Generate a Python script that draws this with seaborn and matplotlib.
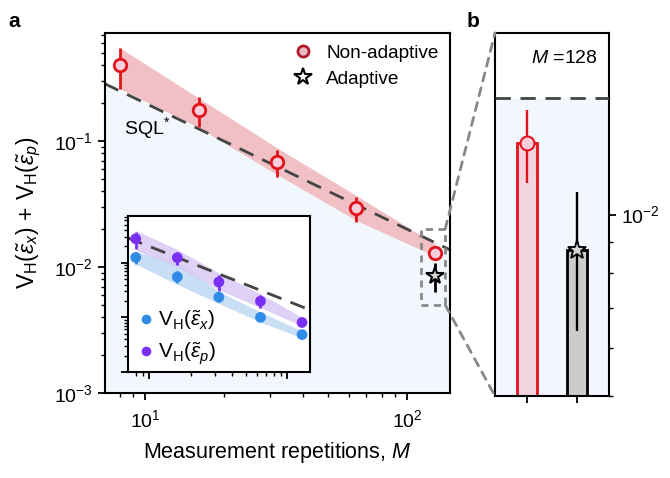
import numpy as np
import pandas as pd
import matplotlib
matplotlib.use("Agg")
import matplotlib.pyplot as plt
import seaborn as sns
from matplotlib.patches import Rectangle, ConnectionPatch
from matplotlib.lines import Line2D

# ---------------- data ----------------
M = [8, 16, 32, 64, 128]
total = [0.40, 0.176, 0.068, 0.0294, 0.0130]
total_lo = [0.259, 0.129, 0.0518, 0.0228, 0.0121]
total_hi = [0.547, 0.223, 0.085, 0.036, 0.0140]
band_lo = [0.26, 0.128, 0.054, 0.0235, 0.0122]
band_hi = [0.55, 0.22, 0.088, 0.037, 0.0152]

M_adapt = [128]
adapt = [0.0085]
adapt_lo = [0.0063]
adapt_hi = [0.0108]

vx = [0.125, 0.055, 0.0234, 0.0100, 0.00484]
vx_lo = [0.095, 0.042, 0.019, 0.0085, 0.0043]
vx_hi = [0.16, 0.070, 0.028, 0.0118, 0.0054]
vx_band_lo = [0.095, 0.040, 0.018, 0.0082, 0.0042]
vx_band_hi = [0.16, 0.10, 0.030, 0.0125, 0.0056]

vp = [0.275, 0.124, 0.0444, 0.0198, 0.00807]
vp_lo = [0.18, 0.090, 0.031, 0.0150, 0.0072]
vp_hi = [0.37, 0.160, 0.060, 0.0255, 0.0092]
vp_band_lo = [0.17, 0.085, 0.032, 0.0150, 0.0070]
vp_band_hi = [0.39, 0.175, 0.065, 0.0270, 0.0100]

bar_labels = ["Non-adaptive", "Adaptive"]
bar_vals = [0.01312, 0.00872]
bar_lo = [0.01126, 0.00642]
bar_hi = [0.01493, 0.0109]

M_line = [7.0, 8, 16, 32, 64, 128, 146]
sql = [2.0 / m for m in M_line]

RED = "#e3131b"
PINK = "#f7cfdc"
BAND_RED = "#f0c0c4"
BG = "#f1f7fc"
BLUE = "#2f8be6"
PURPLE = "#7a2ff5"
BAND_BLUE = "#c2dbf4"
BAND_PURPLE = "#d6c6f3"

# ---------------- style ----------------
sns.set_theme(style="ticks")
plt.rcParams["font.family"] = ["Liberation Sans", "DejaVu Sans"]
plt.rcParams["mathtext.fontset"] = "custom"
plt.rcParams["mathtext.rm"] = "Liberation Sans"
plt.rcParams["mathtext.it"] = "Liberation Sans:italic"
plt.rcParams["mathtext.bf"] = "Liberation Sans:bold"
for k in ["text.color", "axes.labelcolor", "xtick.color", "ytick.color", "axes.edgecolor"]:
    plt.rcParams[k] = "black"
plt.rcParams["axes.linewidth"] = 1.5
plt.rcParams["xtick.major.width"] = 1.3
plt.rcParams["ytick.major.width"] = 1.3
plt.rcParams["xtick.minor.width"] = 1.0
plt.rcParams["ytick.minor.width"] = 1.0
plt.rcParams["xtick.major.size"] = 5
plt.rcParams["ytick.major.size"] = 5
plt.rcParams["xtick.minor.size"] = 3
plt.rcParams["ytick.minor.size"] = 3

fig = plt.figure(figsize=(6.7, 4.78), dpi=100)
ax = fig.add_axes([0.1567, 0.1778, 0.5149, 0.7531])
axb = fig.add_axes([0.7388, 0.1715, 0.1701, 0.7594])
axi = fig.add_axes([0.191, 0.2218, 0.2716, 0.3264])

XLIM = (7.03, 146)
YLIM = (1e-3, 0.72)

# ---------------- main panel ----------------
ax.set_xscale("log")
ax.set_yscale("log")
ax.fill_between(M_line, [YLIM[0]] * len(M_line), sql, color=BG, lw=0, zorder=0)
ax.fill_between(M, band_lo, band_hi, color=BAND_RED, lw=0, zorder=1)
sns.lineplot(x=M_line, y=sql, ax=ax, color="#444444", lw=2, zorder=2, legend=False)
ax.lines[-1].set_dashes([5.5, 3.5])
yerr = [np.array(total) - np.array(total_lo), np.array(total_hi) - np.array(total)]
ax.errorbar(M, total, yerr=yerr, fmt="none", ecolor=RED, elinewidth=2, zorder=3)
ax.plot(M, total, "o", ms=9, mfc=PINK, mec=RED, mew=2, zorder=4, ls="none")
yerr_a = [np.array(adapt) - np.array(adapt_lo), np.array(adapt_hi) - np.array(adapt)]
ax.errorbar(M_adapt, adapt, yerr=yerr_a, fmt="none", ecolor="black", elinewidth=2, zorder=3)
ax.plot(M_adapt, adapt, "*", ms=13, mfc="#d4d4d4", mec="black", mew=1.5, zorder=4, ls="none")

ax.set_xlim(*XLIM)
ax.set_ylim(*YLIM)
ax.set_xlabel("Measurement repetitions, $\\mathit{M}$", fontsize=15.5, labelpad=6)
ax.set_ylabel(r"$\mathrm{V_H}(\tilde{\varepsilon}_x)\,+\,\mathrm{V_H}(\tilde{\varepsilon}_p)$",
              fontsize=16.5, labelpad=8)
ax.tick_params(axis="both", which="major", labelsize=14)
ax.tick_params(axis="x", which="major", pad=7)
ax.text(0.055, 0.72, "SQL$^{*}$", transform=ax.transAxes, fontsize=14)

handles = [
    Line2D([], [], marker="o", ls="none", ms=8, mfc="#e8b8c4", mec="#b01c2c", mew=2),
    Line2D([], [], marker="*", ls="none", ms=13, mfc="white", mec="black", mew=1.5),
]
ax.legend(handles, ["Non-adaptive", "Adaptive"], loc="upper right", frameon=False,
          fontsize=13.7, handletextpad=0.4, borderaxespad=0.2, labelspacing=0.45,
          handlelength=1.6)

# zoom box
box_x = (113, 140)
box_y = (0.005, 0.02)
ax.add_patch(Rectangle((box_x[0], box_y[0]), box_x[1] - box_x[0], box_y[1] - box_y[0],
                       fill=False, ec="#888888", ls=(0, (2.5, 2)), lw=2, zorder=5))

# ---------------- inset ----------------
axi.set_xscale("log")
axi.set_yscale("log")
axi.set_facecolor("white")
axi.fill_between(M, vx_band_lo, vx_band_hi, color=BAND_BLUE, lw=0, alpha=0.9, zorder=1)
axi.fill_between(M, vp_band_lo, vp_band_hi, color=BAND_PURPLE, lw=0, alpha=0.8, zorder=1)
axi.plot(M_line, sql, color="#444444", lw=2, dashes=[5.5, 3.5], zorder=2)
for vals, lo, hi, col in [(vx, vx_lo, vx_hi, BLUE), (vp, vp_lo, vp_hi, PURPLE)]:
    e = [np.array(vals) - np.array(lo), np.array(hi) - np.array(vals)]
    axi.errorbar(M, vals, yerr=e, fmt="none", ecolor=col, elinewidth=2, zorder=3)
df_in = pd.DataFrame({
    "M": M + M,
    "v": vx + vp,
    "q": [r"$\mathrm{V_H}(\tilde{\varepsilon}_x)$"] * 5 + [r"$\mathrm{V_H}(\tilde{\varepsilon}_p)$"] * 5,
})
sns.scatterplot(data=df_in, x="M", y="v", hue="q", palette=[BLUE, PURPLE], s=60,
                edgecolor="none", ax=axi, zorder=4)
axi.set_xlim(*XLIM)
axi.set_ylim(*YLIM)
axi.set_xlabel("")
axi.set_ylabel("")
axi.tick_params(which="both", labelleft=False, labelbottom=False)
leg = axi.legend(loc="lower left", frameon=False, fontsize=15, handletextpad=0.0,
                 borderaxespad=0.0, labelspacing=0.4, markerscale=0.9, borderpad=0.25,
                 handlelength=1.2)
leg.set_title(None)

# ---------------- panel b ----------------
df_b = pd.DataFrame({"kind": bar_labels, "val": bar_vals})
sns.barplot(data=df_b, x="kind", y="val", hue="kind", palette=[PINK, "#cccccc"],
            width=0.4, ax=axb, legend=False, zorder=2)
for patch, ec in zip(axb.patches, [RED, "black"]):
    patch.set_edgecolor(ec)
    patch.set_linewidth(2)
axb.set_yscale("log")
axb.set_xlim(-0.636, 1.636)
axb.set_ylim(0.005, 0.02)
axb.fill_between([-0.7, 1.7], [0.005, 0.005], [2.0 / 128, 2.0 / 128], color=BG, lw=0, zorder=0)
axb.axhline(2.0 / 128, color="#444444", lw=2, dashes=[5.5, 3.5], zorder=3)
for i, (v, lo, hi, col) in enumerate(zip(bar_vals, bar_lo, bar_hi, [RED, "black"])):
    axb.errorbar([i], [v], yerr=[[v - lo], [hi - v]], fmt="none", ecolor=col, elinewidth=1.7, zorder=4)
axb.plot([0], [bar_vals[0]], "o", ms=10, mfc=PINK, mec=RED, mew=1.5, zorder=5)
axb.plot([1], [bar_vals[1]], "*", ms=14, mfc="#d4d4d4", mec="black", mew=1.3, zorder=5)
axb.yaxis.tick_right()
axb.set_yticks([0.01])
axb.set_yticklabels([r"$10^{-2}$"])
axb.set_yticks([0.005, 0.006, 0.007, 0.008, 0.009], minor=True)
axb.yaxis.set_minor_formatter(matplotlib.ticker.NullFormatter())
axb.tick_params(axis="y", which="major", labelsize=14)
axb.set_xticks([0, 1])
axb.set_xticklabels(["", ""])
axb.set_xlabel("")
axb.set_ylabel("")
axb.text(0.9, 0.93, "$\\mathit{M}$ =128", transform=axb.transAxes, ha="right", va="center",
         fontsize=14)

# connectors
for (xa, ya), (xb, yb) in [((box_x[1], box_y[1]), (0, 1)), ((box_x[1], box_y[0]), (0, 0))]:
    con = ConnectionPatch(xyA=(xa, ya), coordsA=ax.transData, xyB=(xb, yb), coordsB=axb.transAxes,
                          color="#888888", lw=2, ls=(0, (3, 2.5)))
    fig.add_artist(con)

fig.text(0.012, 0.955, "a", fontsize=15, fontweight="bold", va="center")
fig.text(0.697, 0.955, "b", fontsize=15, fontweight="bold", va="center")

fig.savefig("out.png", dpi=100)
